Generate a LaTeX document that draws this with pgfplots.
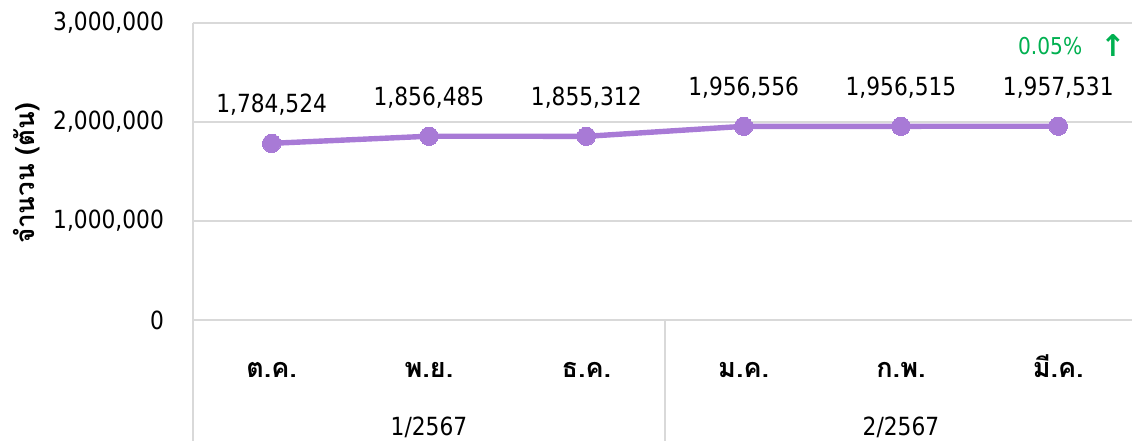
\documentclass[border=0pt]{standalone}
\usepackage{fontspec}
\setmainfont{DejaVu Sans}[FakeStretch=0.87]
\newfontfamily\thai[Script=Thai]{Loma}
\newfontfamily\arrowfont{DejaVu Sans}
\usepackage{pgfplots}
\pgfplotsset{compat=1.18}
\usepackage{pgfplotstable}
\definecolor{lineP}{RGB}{168,122,214}
\definecolor{gridG}{RGB}{217,217,217}
\definecolor{upG}{RGB}{0,176,80}
\pgfplotstableread{
x y lab
0 1784524 1,784,524
1 1856485 1,856,485
2 1855312 1,855,312
3 1956556 1,956,556
4 1956515 1,956,515
5 1957531 1,957,531
}\datatable
\begin{document}
\begin{tikzpicture}
\path[use as bounding box] (0,0) rectangle (566pt,220.5pt);
\begin{axis}[
  at={(96.5pt,60.5pt)}, anchor=south west,
  width=472pt, height=148.5pt, scale only axis,
  xmin=-0.5, xmax=5.5, ymin=0, ymax=3000000,
  axis line style={draw=none},
  ymajorgrids, grid style={gridG, line width=1pt},
  ytick={0,1000000,2000000,3000000},
  yticklabels={0,{1,000,000},{2,000,000},{3,000,000}},
  scaled y ticks=false,
  major tick length=0pt,
  yticklabel style={font=\fontsize{12.5}{15}\selectfont, xshift=-11pt},
  xtick={0,1,2,3,4,5},
  xticklabels={ต.ค., พ.ย., ธ.ค., ม.ค., ก.พ., มี.ค.},
  xticklabel style={font=\thai\bfseries\fontsize{13.5}{15}\selectfont, anchor=base, yshift=-28.5pt},
  ylabel={จำนวน (ตัน)},
  ylabel style={font=\thai\bfseries\fontsize{13}{15}\selectfont, xshift=-1pt},
  clip=false,
  nodes near coords, point meta=explicit symbolic,
  every node near coord/.append style={font=\fontsize{12.5}{15}\selectfont, anchor=center, yshift=19.5pt, text=black},
]
\draw[gridG, line width=1pt] (axis cs:-0.5,3000000) -- ([yshift=-60.5pt]axis cs:-0.5,0);
\draw[gridG, line width=1pt] (axis cs:2.5,0) -- ([yshift=-60.5pt]axis cs:2.5,0);
\addplot[lineP, line width=2.7pt, mark=*, mark size=4.6pt, mark options={fill=lineP, draw=lineP, line width=0pt}] table[x=x,y=y,meta=lab]{\datatable};
\node[font=\fontsize{12.5}{15}\selectfont] at ([yshift=-53.5pt]axis cs:1,0) {1/2567};
\node[font=\fontsize{12.5}{15}\selectfont] at ([yshift=-53.5pt]axis cs:4,0) {2/2567};
\node[anchor=east, text=upG, font=\fontsize{11.6}{13}\selectfont] at (axis cs:5.197,2768000) {0.05\%};
\node[text=upG, font=\arrowfont\bfseries\fontsize{15}{17}\selectfont] at (axis cs:5.347,2775000) {↑};
\end{axis}
\end{tikzpicture}
\end{document}
